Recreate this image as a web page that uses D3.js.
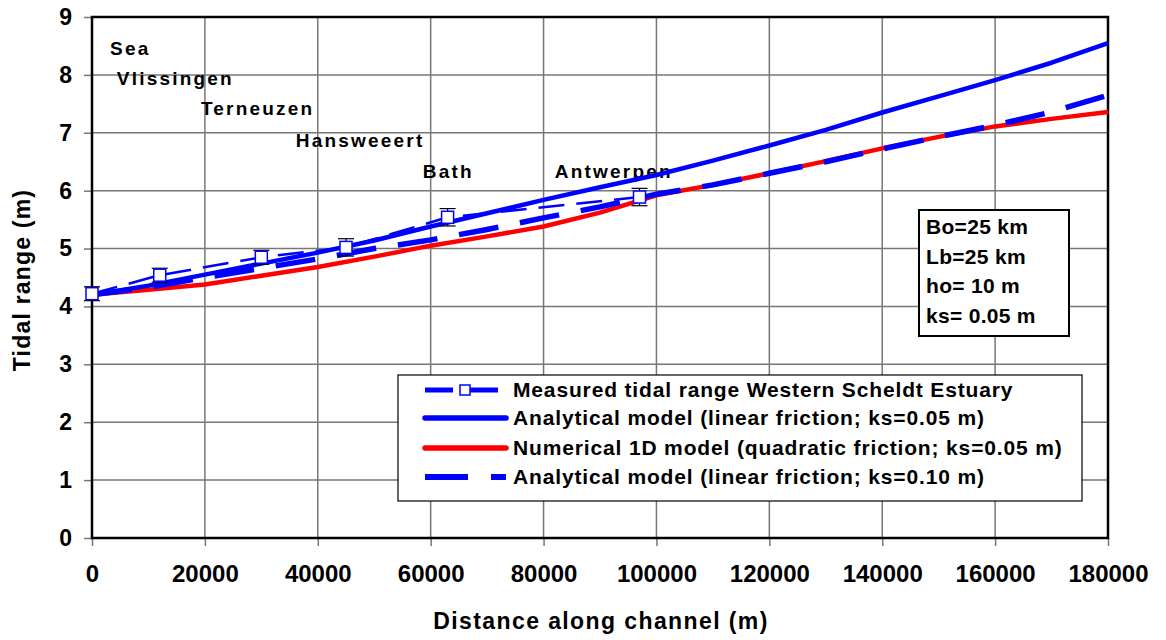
<!DOCTYPE html>
<html><head><meta charset="utf-8">
<script src="https://cdn.jsdelivr.net/npm/d3@7/dist/d3.min.js"></script>
<style>
html,body{margin:0;padding:0;background:#fff;}
text{font-family:"Liberation Sans",Arial,sans-serif;font-weight:bold;fill:#000;}
</style></head>
<body>
<svg id="chart" width="1166" height="640"></svg>
<script>
// ---- data ----
const xTicks = [0,20000,40000,60000,80000,100000,120000,140000,160000,180000];
const yTicks = [0,1,2,3,4,5,6,7,8,9];

const measuredX = [0,12000,30000,45000,63000,97000];
const measuredY = [4.22,4.54,4.85,5.02,5.54,5.89];
const measuredErr = [0.12,0.12,0.12,0.15,0.15,0.15];

const modelX = [0,10000,20000,30000,40000,50000,60000,70000,80000,90000,100000,110000,120000,130000,140000,150000,160000,170000,180000];
const analytic005 = [4.2,4.36,4.55,4.74,4.93,5.14,5.38,5.61,5.84,6.06,6.27,6.52,6.78,7.05,7.35,7.63,7.91,8.21,8.55];
const numeric005 = [4.2,4.29,4.38,4.53,4.68,4.86,5.05,5.21,5.38,5.62,5.92,6.1,6.3,6.51,6.73,6.93,7.11,7.24,7.36];
const analytic010 = [4.2,4.33,4.5,4.66,4.82,5.0,5.15,5.33,5.53,5.72,5.94,6.1,6.3,6.5,6.72,6.93,7.13,7.36,7.65];

const stations = [
  {name:"Sea", x:3200, y:8.46},
  {name:"Vlissingen", x:4400, y:7.95},
  {name:"Terneuzen", x:19300, y:7.43},
  {name:"Hansweeert", x:36100, y:6.88},
  {name:"Bath", x:58600, y:6.34},
  {name:"Antwerpen", x:82000, y:6.34}
];
const paramLines = ["Bo=25 km","Lb=25 km","ho= 10 m","ks= 0.05 m"];
const legendLabels = [
  "Measured tidal range Western Scheldt Estuary",
  "Analytical model (linear friction; ks=0.05 m)",
  "Numerical 1D model (quadratic friction; ks=0.05 m)",
  "Analytical model (linear friction; ks=0.10 m)"
];

// ---- layout ----
const svg = d3.select("#chart");
const L = 92, R = 1108, T = 17, B = 538;
const x = d3.scaleLinear().domain([0,180000]).range([L,R]);
const y = d3.scaleLinear().domain([0,9]).range([B,T]);
const FF = '"Liberation Sans",Arial,sans-serif';

// grid
svg.append("g").selectAll("line").data(xTicks.slice(1,-1)).join("line")
  .attr("x1",d=>x(d)).attr("x2",d=>x(d)).attr("y1",T).attr("y2",B)
  .attr("stroke","#777").attr("stroke-width",1.5);
svg.append("g").selectAll("line").data(yTicks.slice(1,-1)).join("line")
  .attr("x1",L).attr("x2",R).attr("y1",d=>y(d)).attr("y2",d=>y(d))
  .attr("stroke","#777").attr("stroke-width",1.5);

// axes
const xAxis = d3.axisBottom(x).tickValues(xTicks).tickSize(8).tickPadding(19).tickFormat(d3.format("d"));
const gx = svg.append("g").attr("transform",`translate(0,${B})`).call(xAxis);
gx.select(".domain").remove();
gx.selectAll(".tick line").attr("stroke","#777").attr("stroke-width",1.5);
gx.selectAll(".tick text").style("font-size","24px").style("font-family",FF).style("font-weight","bold");

const yAxis = d3.axisLeft(y).tickValues(yTicks).tickSize(8).tickPadding(12).tickFormat(d3.format("d"));
const gy = svg.append("g").attr("transform",`translate(${L},0)`).call(yAxis);
gy.select(".domain").remove();
gy.selectAll(".tick line").attr("stroke","#777").attr("stroke-width",1.5);
gy.selectAll(".tick text").style("font-size","23px").style("font-family",FF).style("font-weight","bold");

// frame
svg.append("rect").attr("x",L).attr("y",T).attr("width",R-L).attr("height",B-T)
  .attr("fill","none").attr("stroke","#000").attr("stroke-width",2.5);

// axis titles
svg.append("text").attr("x",601).attr("y",629).attr("text-anchor","middle")
  .style("font-size","23px").style("letter-spacing","1.4px").text("Distance along channel (m)");
svg.append("text").attr("transform",`translate(30,280) rotate(-90)`).attr("text-anchor","middle")
  .style("font-size","23px").style("letter-spacing","1.2px").text("Tidal range (m)");

// station labels
svg.append("g").selectAll("text").data(stations).join("text")
  .attr("x",d=>x(d.x)).attr("y",d=>y(d.y)+7)
  .style("font-size","19px").style("letter-spacing","2.2px").text(d=>d.name);

// series
const line = d3.line().x(d=>x(d[0])).y(d=>y(d[1]));
const zip = (a,b)=>a.map((v,i)=>[v,b[i]]);

svg.append("path").datum(zip(modelX,numeric005)).attr("d",line)
  .attr("fill","none").attr("stroke","#ff0000").attr("stroke-width",4.5).attr("stroke-linejoin","round");
svg.append("path").datum(zip(modelX,analytic005)).attr("d",line)
  .attr("fill","none").attr("stroke","#0000ff").attr("stroke-width",4.5).attr("stroke-linejoin","round");
svg.append("path").datum(zip(modelX,analytic010)).attr("d",line)
  .attr("fill","none").attr("stroke","#0000ff").attr("stroke-width",5.5).attr("stroke-dasharray","40,22");
svg.append("path").datum(zip(measuredX,measuredY)).attr("d",line)
  .attr("fill","none").attr("stroke","#0000ff").attr("stroke-width",2.5).attr("stroke-dasharray","26,12");

// error bars
const meas = measuredX.map((v,i)=>({x:v,y:measuredY[i],e:measuredErr[i]}));
const eg = svg.append("g").attr("stroke","#000").attr("stroke-width",1.2);
eg.selectAll("line.v").data(meas).join("line").attr("class","v")
  .attr("x1",d=>x(d.x)).attr("x2",d=>x(d.x)).attr("y1",d=>y(d.y-d.e)).attr("y2",d=>y(d.y+d.e));
eg.selectAll("line.t").data(meas).join("line").attr("class","t")
  .attr("x1",d=>x(d.x)-8).attr("x2",d=>x(d.x)+8).attr("y1",d=>y(d.y+d.e)).attr("y2",d=>y(d.y+d.e));
eg.selectAll("line.b").data(meas).join("line").attr("class","b")
  .attr("x1",d=>x(d.x)-8).attr("x2",d=>x(d.x)+8).attr("y1",d=>y(d.y-d.e)).attr("y2",d=>y(d.y-d.e));
svg.append("g").selectAll("rect").data(meas).join("rect")
  .attr("x",d=>x(d.x)-6).attr("y",d=>y(d.y)-6).attr("width",12).attr("height",12)
  .attr("fill","#fff").attr("stroke","#0000ff").attr("stroke-width",1.5);

// parameter box
const pb = svg.append("g");
pb.append("rect").attr("x",919).attr("y",210).attr("width",150).attr("height",126)
  .attr("fill","#fff").attr("stroke","#000").attr("stroke-width",2);
pb.selectAll("text").data(paramLines).join("text")
  .attr("x",926).attr("y",(d,i)=>234+i*29.5)
  .style("font-size","21px").style("letter-spacing","0.3px").text(d=>d);

// legend
const lg = svg.append("g");
lg.append("rect").attr("x",398).attr("y",375).attr("width",684).attr("height",126)
  .attr("fill","#fff").attr("stroke","#000").attr("stroke-width",1.2);
const rows = [390,418,448,477];
// row 0: measured
lg.append("line").attr("x1",425).attr("x2",453).attr("y1",rows[0]).attr("y2",rows[0]).attr("stroke","#0000ff").attr("stroke-width",5);
lg.append("line").attr("x1",470).attr("x2",498).attr("y1",rows[0]).attr("y2",rows[0]).attr("stroke","#0000ff").attr("stroke-width",5);
lg.append("rect").attr("x",460).attr("y",rows[0]-5).attr("width",10).attr("height",10).attr("fill","#fff").attr("stroke","#0000ff").attr("stroke-width",1.5);
// row 1,2
lg.append("line").attr("x1",425).attr("x2",506).attr("y1",rows[1]).attr("y2",rows[1]).attr("stroke","#0000ff").attr("stroke-width",5.5).attr("stroke-linecap","round");
lg.append("line").attr("x1",425).attr("x2",506).attr("y1",rows[2]).attr("y2",rows[2]).attr("stroke","#ff0000").attr("stroke-width",5.5).attr("stroke-linecap","round");
// row 3
lg.append("line").attr("x1",425).attr("x2",468).attr("y1",rows[3]).attr("y2",rows[3]).attr("stroke","#0000ff").attr("stroke-width",6);
lg.append("line").attr("x1",491).attr("x2",506).attr("y1",rows[3]).attr("y2",rows[3]).attr("stroke","#0000ff").attr("stroke-width",6);
lg.selectAll("text").data(legendLabels).join("text")
  .attr("x",513).attr("y",(d,i)=>rows[i]+7)
  .style("font-size","21px").style("letter-spacing","0.85px").text(d=>d);
</script>
</body></html>
